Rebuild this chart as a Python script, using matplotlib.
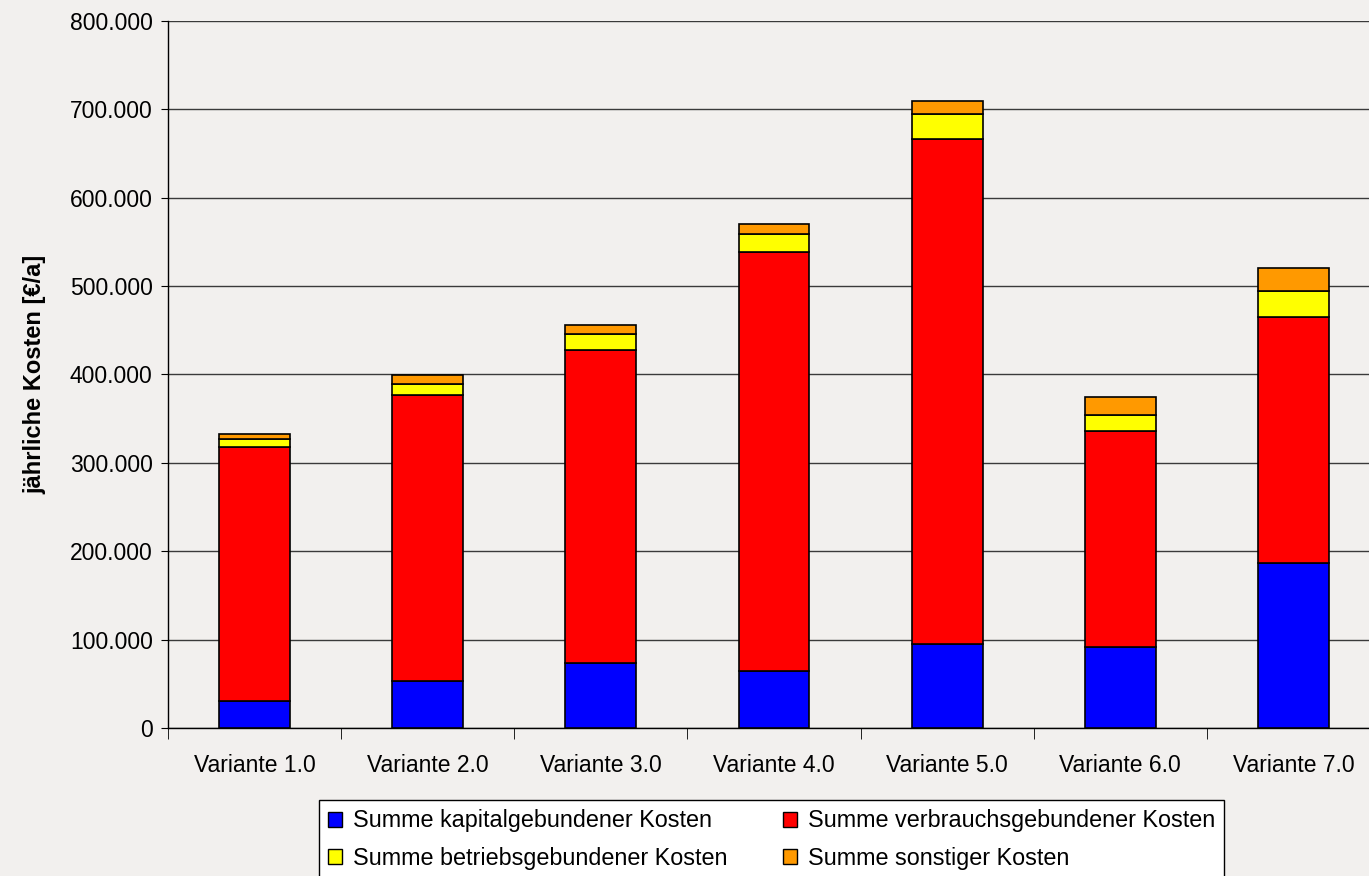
import numpy as np
import matplotlib.pyplot as plt
from matplotlib.ticker import FuncFormatter, FixedLocator
from matplotlib.patches import Patch

# data (in Euro per year)
varianten = ["Variante 1.0", "Variante 2.0", "Variante 3.0", "Variante 4.0",
             "Variante 5.0", "Variante 6.0", "Variante 7.0"]
kapital = [30000, 53000, 74000, 65000, 95000, 92000, 187000]
verbrauch = [288000, 324000, 354000, 474000, 572000, 244000, 278000]
betrieb = [9000, 12000, 18000, 20000, 28000, 18000, 30000]
sonstige = [6000, 10000, 10000, 11000, 14000, 20000, 25000]

namen = ["Summe kapitalgebundener Kosten", "Summe verbrauchsgebundener Kosten",
         "Summe betriebsgebundener Kosten", "Summe sonstiger Kosten"]
farben = ["#0000ff", "#ff0000", "#ffff00", "#ff9900"]

bg = "#f2f0ee"
plt.rcParams['font.family'] = ['Liberation Sans', 'DejaVu Sans']

fig = plt.figure(figsize=(13.69, 8.76), dpi=100, facecolor=bg)
# plot area runs a bit past the right edge of the picture
ax = fig.add_axes([168 / 1369, 1 - 728 / 876, (1380 - 168) / 1369, (728 - 21) / 876])
ax.set_facecolor(bg)

x = np.arange(len(varianten))
unten = np.zeros(len(varianten))
for werte, farbe, name in zip([kapital, verbrauch, betrieb, sonstige], farben, namen):
    ax.bar(x, werte, 0.41, bottom=unten, color=farbe, edgecolor='black',
           linewidth=1.2, label=name, zorder=3)
    unten += np.array(werte)

ax.set_xlim(-0.5, len(varianten) - 0.5)
ax.set_ylim(0, 800000)
ax.set_yticks(np.arange(0, 800001, 100000))
ax.yaxis.set_major_formatter(FuncFormatter(lambda v, p: "{:,.0f}".format(v).replace(",", ".")))
ax.grid(axis='y', color='#3a3a3a', linewidth=1, zorder=0)
ax.set_axisbelow(True)

ax.set_xticks(x)
ax.set_xticklabels(varianten)
ax.xaxis.set_minor_locator(FixedLocator(np.arange(-0.5, len(varianten), 1)))
ax.tick_params(axis='x', which='major', length=0, pad=19, labelsize=16.5)
ax.tick_params(axis='x', which='minor', length=8, color='black')
ax.tick_params(axis='y', length=5, color='black', labelsize=16.5, pad=6)

for s in ['top', 'right']:
    ax.spines[s].set_visible(False)
for s in ['left', 'bottom']:
    ax.spines[s].set_color('black')
    ax.spines[s].set_linewidth(1)

ax.set_ylabel("jährliche Kosten [€/a]", fontsize=17, fontweight='bold', labelpad=17)

# legend: two columns, row order kapital/verbrauch, betrieb/sonstige
h = [Patch(facecolor=c, edgecolor='black', linewidth=1) for c in farben]
order = [0, 2, 1, 3]
leg = fig.legend([h[i] for i in order], [namen[i] for i in order], ncol=2,
                 loc='upper left', bbox_to_anchor=(319 / 1369, 1 - 800 / 876),
                 borderaxespad=0, frameon=True, fancybox=False, edgecolor='black',
                 facecolor='white', framealpha=1, prop={'size': 16.8},
                 handlelength=0.6, handleheight=0.6, handletextpad=0.45,
                 columnspacing=2.4, labelspacing=0.62, borderpad=0.4)
leg.get_frame().set_linewidth(1)

fig.savefig("out.png", dpi=100, facecolor=bg)
